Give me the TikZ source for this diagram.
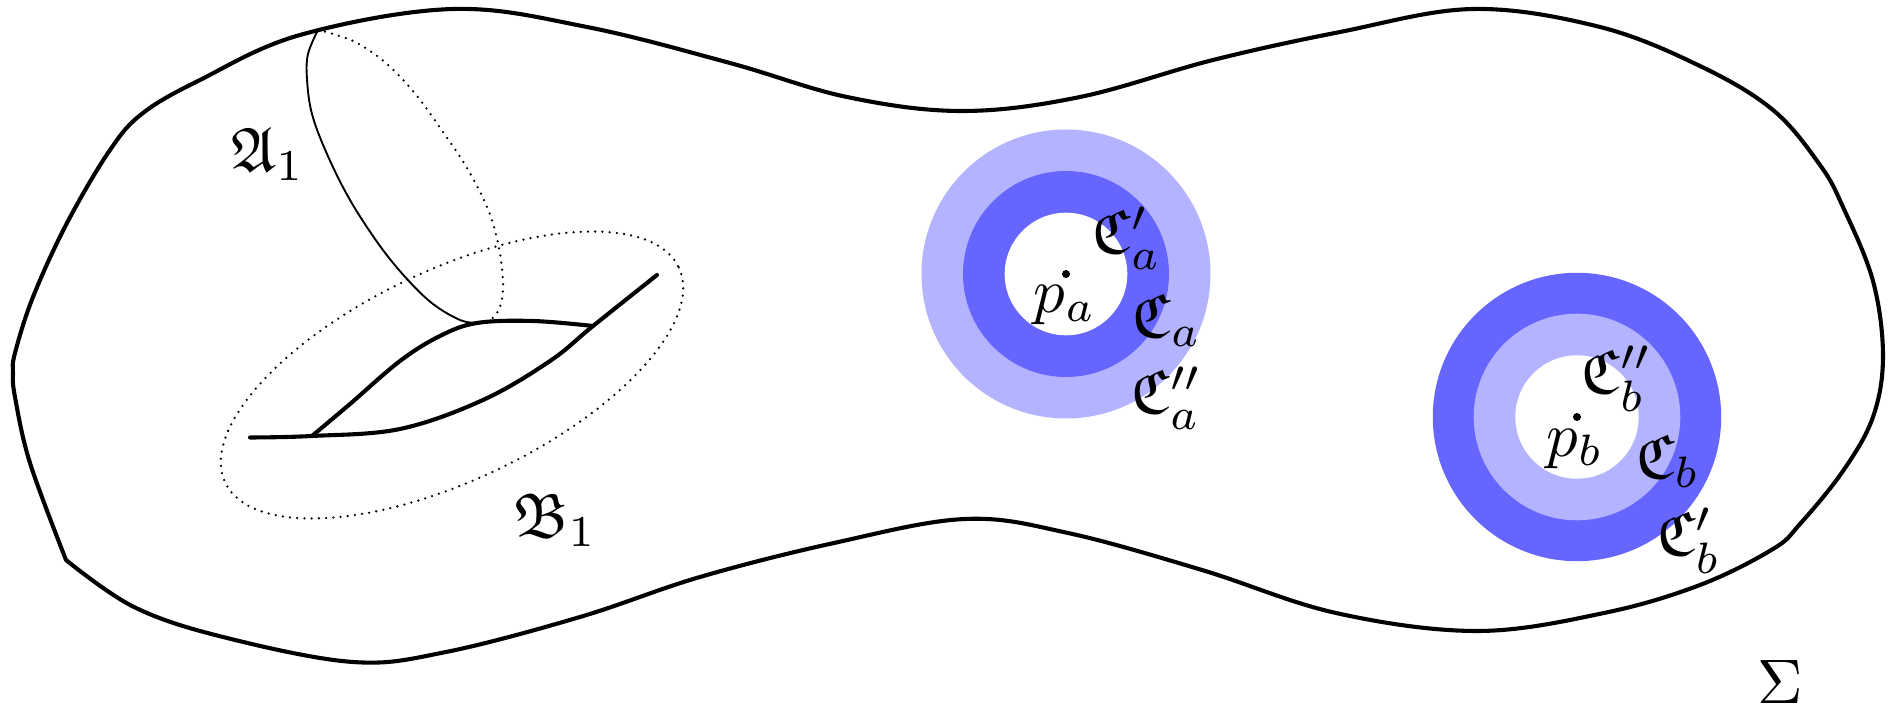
\documentclass[tikz,border=0pt]{standalone}
\usepackage{amssymb}
\definecolor{annlight}{RGB}{179,179,255}
\definecolor{anndark}{RGB}{102,102,255}
\begin{document}
\begin{tikzpicture}[x=0.159pt,y=-0.159pt,
  outline/.style={line width=0.65pt, line join=round, line cap=round},
  thinline/.style={line width=0.3pt},
  dotline/.style={line width=0.4pt, dash pattern=on 0pt off 1.15pt, line cap=round},
  lbl/.style={inner sep=0pt, anchor=center}]
\useasboundingbox (0,0) rectangle (1893,707);
% surface outline
\draw[outline] plot[smooth, tension=0.6] coordinates {(66,560) (30,463) (15,397) (13,373) (15,353) (33,297) (67,223) (110,150) (143,113) (200,80) (300,35) (453,9) (587,27) (730,63) (847,97) (962,111) (1080,97) (1213,60) (1340,32) (1473,9) (1600,27) (1700,66) (1773,110) (1820,165) (1843,207) (1873,281) (1883,356) (1873,417) (1843,471) (1800,524) (1773,549) (1700,585) (1604,613) (1477,631) (1336,613) (1202,570) (1068,533) (965,519) (834,543) (700,577) (580,617) (446,652) (353,662) (223,637) (134,607) (66,560)};
% A-cycle
\draw[thinline] plot[smooth, tension=0.6] coordinates {(318,30) (308,54) (307,79) (312,114) (327,154) (350,200) (380,246) (407,279) (433,304) (460,320) (477,323)};
\draw[dotline] plot[smooth, tension=0.6] coordinates {(318,30) (333,34) (357,43) (387,64) (417,96) (443,132) (467,168) (487,207) (498,243) (503,282) (500,307) (490,320) (477,323)};
% B-cycle
\draw[dotline, rotate around={25.4:(452,375)}] (452,375) ellipse [x radius=251, y radius=105];
% handle
\draw[outline] plot[smooth, tension=0.6] coordinates {(250,437.5) (312,436) (400,429) (483,400) (550,361) (593,326) (657,275)};
\draw[outline] plot[smooth, tension=0.6] coordinates {(312,436) (350,404) (400,361) (440,336) (477,323) (533,321) (593,326)};
% annulus a
\fill[annlight] (1066,274) circle (144.5);
\fill[anndark] (1066,274) circle (103);
\fill[white] (1066,274) circle (61.3);
\fill (1066,274) circle (4);
% annulus b
\fill[anndark] (1577,417) circle (144.2);
\fill[annlight] (1577,417) circle (103.3);
\fill[white] (1577,417) circle (61.7);
\fill (1577,417) circle (4);
% labels
\node[lbl] (A1) at (268,154) {$\mathfrak{A}_1$};
\node[lbl] (B1) at (555,520) {$\mathfrak{B}_1$};
\node[lbl] (Cpa) at (1127,238) {$\mathfrak{C}'_a$};
\node[lbl] (pa) at (1065,305) {$p_a$};
\node[lbl] (Ca) at (1167,320) {$\mathfrak{C}_a$};
\node[lbl] (Cppa) at (1167,398) {$\mathfrak{C}''_a$};
\node[lbl] (Cppb) at (1617,379) {$\mathfrak{C}''_b$};
\node[lbl] (pb) at (1575,449) {$p_b$};
\node[lbl] (Cb) at (1668,461) {$\mathfrak{C}_b$};
\node[lbl] (Cpb) at (1689,541) {$\mathfrak{C}'_b$};
\node[lbl] (S) at (1780,682) {$\Sigma$};
\end{tikzpicture}
\end{document}
